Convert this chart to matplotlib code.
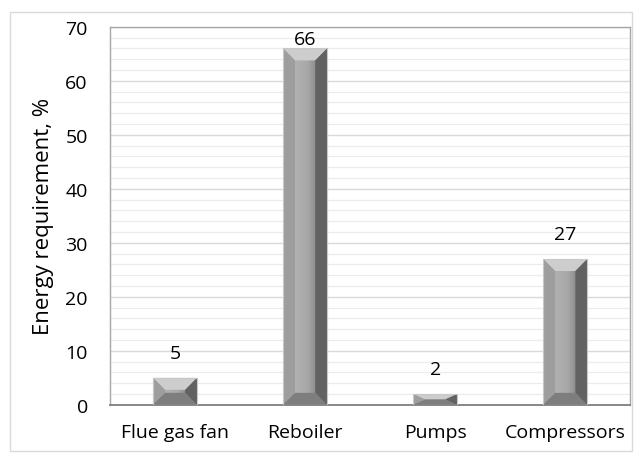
import numpy as np
import matplotlib.pyplot as plt
from matplotlib.patches import Rectangle, Polygon
from matplotlib.colors import LinearSegmentedColormap

# данные
categories = ["Flue gas fan", "Reboiler", "Pumps", "Compressors"]
values = [5, 66, 2, 27]

plt.rcParams['font.family'] = ['Open Sans', 'DejaVu Sans']

fig = plt.figure(figsize=(6.36, 4.56), dpi=100)
ax = fig.add_axes([0.173, 0.11, 0.818, 0.829])

# рамка вокруг всего рисунка
fig.patches.append(Rectangle((0.016, 0.009), 0.977, 0.963, transform=fig.transFigure,
                             fill=False, edgecolor='#d9d9d9', lw=1.0))

x = np.arange(len(categories))
width = 0.34
bars = ax.bar(x, values, width=width, color='none', edgecolor='#c8c8c8', lw=0.8, zorder=3)

ax.set_xlim(-0.5, len(categories) - 0.5)
ax.set_ylim(0, 70)

# градиент тела столбца
body = LinearSegmentedColormap.from_list('body', [
    (0.0, '#8e8e8e'), (0.25, '#b2b2b2'), (0.55, '#a8a8a8'),
    (0.85, '#7c7c7c'), (1.0, '#585858')])
grad = np.linspace(0, 1, 256).reshape(1, -1)

px_per_x = 520 / 4.0
px_per_y = 378 / 70.0
bev_px = 12

for b in bars:
    x0, y0 = b.get_x(), b.get_y()
    w, h = b.get_width(), b.get_height()
    im = ax.imshow(grad, extent=[x0, x0 + w, y0, y0 + h], aspect='auto',
                   cmap=body, zorder=2.5, interpolation='bicubic')
    im.set_clip_path(b)
    bx = bev_px / px_per_x
    by = min(bev_px / px_per_y, h / 2)
    x1, y1 = x0 + w, y0 + h
    # фаски
    top = Polygon([(x0, y1), (x1, y1), (x1 - bx, y1 - by), (x0 + bx, y1 - by)],
                  closed=True, color='#cdcdcd', lw=0, zorder=2.8)
    left = Polygon([(x0, y0), (x0, y1), (x0 + bx, y1 - by), (x0 + bx, y0 + by)],
                   closed=True, color='#9e9e9e', lw=0, zorder=2.8)
    right = Polygon([(x1, y0), (x1, y1), (x1 - bx, y1 - by), (x1 - bx, y0 + by)],
                    closed=True, color='#626262', lw=0, zorder=2.8)
    bottom = Polygon([(x0, y0), (x1, y0), (x1 - bx, y0 + by), (x0 + bx, y0 + by)],
                     closed=True, color='#7e7e7e', lw=0, zorder=2.8)
    for p in (top, left, right, bottom):
        ax.add_patch(p)
    # подпись над столбцом, но не выше области построения
    ypos = min(y1 + 3.0, 70 - 3.9)
    ax.text(x0 + w / 2, ypos, f"{int(h)}", ha='center', va='bottom',
            fontsize=14, color='#000000', zorder=4)

ax.set_yticks(np.arange(0, 71, 10))
ax.set_yticks(np.arange(0, 71, 2), minor=True)
ax.set_xticks(x)
ax.set_xticklabels(categories, fontsize=14)
ax.tick_params(axis='y', labelsize=14, length=0, pad=16)
ax.tick_params(axis='y', which='minor', length=0)
ax.tick_params(axis='x', length=0, pad=13)
ax.grid(axis='y', which='major', color='#d9d9d9', lw=1.0, zorder=0)
ax.grid(axis='y', which='minor', color='#ececec', lw=0.9, zorder=0)
ax.set_axisbelow(True)

for side in ('left', 'top', 'right'):
    ax.spines[side].set_color('#a6a6a6')
    ax.spines[side].set_linewidth(1.0)
ax.spines['bottom'].set_color('#7f7f7f')
ax.spines['bottom'].set_linewidth(1.3)

ax.set_ylabel("Energy requirement, %", fontsize=16, labelpad=8)

fig.savefig("out.png", dpi=100)
